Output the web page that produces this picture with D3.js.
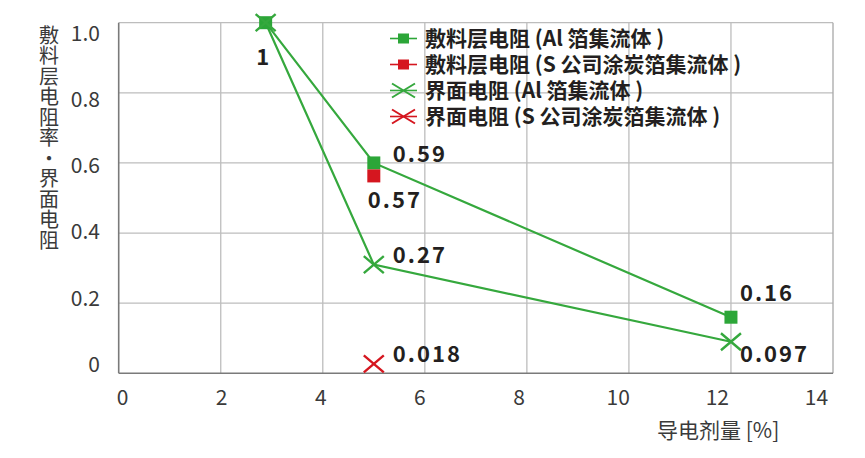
<!DOCTYPE html>
<html>
<head>
<meta charset="utf-8">
<script src="https://cdn.jsdelivr.net/npm/d3@7"></script>
<style>
  html, body { margin: 0; padding: 0; background: #fff; }
  svg { display: block; }
</style>
</head>
<body>
<svg id="chart" width="865" height="458"></svg>
<script>
// ---------- data ----------
const xTicks = [0, 2, 4, 6, 8, 10, 12, 14];
const yTicks = [0, 0.2, 0.4, 0.6, 0.8, 1.0];
const yTickLabels = ["0", "0.2", "0.4", "0.6", "0.8", "1.0"];
const yTitle = "敷料层电阻率・界面电阻";
const xTitle = "导电剂量 [%]";

const layerAlX = [2.88, 5, 12];
const layerAlY = [1.0, 0.60, 0.16];
const layerAlLabels = ["1", "0.59", "0.16"];

const layerSX = [5];
const layerSY = [0.563];
const layerSLabels = ["0.57"];

const ifaceAlX = [2.88, 5, 12];
const ifaceAlY = [1.0, 0.31, 0.09];
const ifaceAlLabels = ["", "0.27", "0.097"];

const ifaceSX = [5];
const ifaceSY = [0.027];
const ifaceSLabels = ["0.018"];

const legendNames = [
  "敷料层电阻 (Al 箔集流体 )",
  "敷料层电阻 (S 公司涂炭箔集流体 )",
  "界面电阻 (Al 箔集流体 )",
  "界面电阻 (S 公司涂炭箔集流体 )"
];

// ---------- style / layout ----------
const GREEN = "#35a83d", GREEN_M = "#2ca638", RED = "#d5161f";
const CJK = "'Noto Sans CJK SC', 'Noto Sans', sans-serif";
const labelOffsets = {
  layerAl: [[-3, 42, "middle"], [19, -1, "start"], [9, -16, "start"]],
  layerS: [[-6, 32, "start"]],
  ifaceAl: [[0, 0, "start"], [19, -2, "start"], [9, 20, "start"]],
  ifaceS: [[19, -2, "start"]]
};

const svg = d3.select("#chart");
const x = d3.scaleLinear().domain([0, 14]).range([118.7, 833]);
const y = d3.scaleLinear().domain([0, 1]).range([373.3, 22.7]);
// label placement scales (labels in reference are slightly compressed relative to grid)
const xLab = d3.scaleLinear().domain([0, 14]).range([122, 816]);
const yLab = d3.scaleLinear().domain([0, 1]).range([364.5, 33.5]);

// grid
const grid = svg.append("g");
grid.selectAll("line.h").data(yTicks.filter(d => d > 0)).join("line")
  .attr("x1", x(0)).attr("x2", x(14))
  .attr("y1", d => y(d)).attr("y2", d => y(d))
  .attr("stroke", "#bdbdbd").attr("stroke-width", 1.3);
grid.selectAll("line.v").data(xTicks.filter(d => d > 0)).join("line")
  .attr("x1", d => x(d)).attr("x2", d => x(d))
  .attr("y1", y(0)).attr("y2", y(1))
  .attr("stroke", d => d === 14 ? "#a8a8a8" : "#bdbdbd").attr("stroke-width", 1.3);

// axis lines
svg.append("line").attr("x1", x(0)).attr("x2", x(0)).attr("y1", y(1)).attr("y2", y(0))
  .attr("stroke", "#7a7a7a").attr("stroke-width", 1.6);
svg.append("line").attr("x1", x(0)).attr("x2", x(14)).attr("y1", y(0)).attr("y2", y(0))
  .attr("stroke", "#7a7a7a").attr("stroke-width", 1.6);

// tick labels via d3 axes
const yAxis = d3.axisLeft(yLab).tickValues(yTicks).tickSize(0).tickPadding(0)
  .tickFormat((d, i) => yTickLabels[i]);
const gy = svg.append("g").attr("transform", "translate(100,0)").call(yAxis);
gy.select(".domain").remove();
gy.selectAll("text").attr("font-family", CJK).attr("font-size", 21).attr("fill", "#3a3a3a");

const xAxis = d3.axisBottom(xLab).tickValues(xTicks).tickSize(0).tickPadding(0)
  .tickFormat(d => String(d));
const gx = svg.append("g").attr("transform", "translate(0,390)").call(xAxis);
gx.select(".domain").remove();
gx.selectAll("text").attr("font-family", CJK).attr("font-size", 21).attr("fill", "#3a3a3a");

// axis titles
svg.append("text")
  .attr("x", 49).attr("y", 25)
  .attr("font-family", CJK).attr("font-size", 20)
  .attr("fill", "#3a3a3a")
  .style("writing-mode", "vertical-rl")
  .attr("letter-spacing", 0.5)
  .text(yTitle);
svg.append("text").attr("x", 657).attr("y", 438).attr("font-family", CJK)
  .attr("font-size", 21).attr("fill", "#3a3a3a").text(xTitle);

// lines
const line = d3.line().x(d => x(d[0])).y(d => y(d[1]));
const zip = (xs, ys) => xs.map((v, i) => [v, ys[i]]);
const seriesLayerAl = zip(layerAlX, layerAlY);
const seriesIfaceAl = zip(ifaceAlX, ifaceAlY);
svg.append("path").attr("d", line(seriesLayerAl)).attr("fill", "none")
  .attr("stroke", GREEN).attr("stroke-width", 2.2);
svg.append("path").attr("d", line(seriesIfaceAl)).attr("fill", "none")
  .attr("stroke", GREEN).attr("stroke-width", 2.2);

// markers
function squares(g, pts, color, s) {
  g.selectAll(null).data(pts).join("rect")
    .attr("x", d => x(d[0]) - s / 2).attr("y", d => y(d[1]) - s / 2)
    .attr("width", s).attr("height", s).attr("fill", color);
}
function crosses(g, pts, color, w, h, sw) {
  const p = d => `M${x(d[0]) - w / 2},${y(d[1]) - h / 2}L${x(d[0]) + w / 2},${y(d[1]) + h / 2}` +
    `M${x(d[0]) - w / 2},${y(d[1]) + h / 2}L${x(d[0]) + w / 2},${y(d[1]) - h / 2}`;
  g.selectAll(null).data(pts).join("path").attr("d", p)
    .attr("stroke", color).attr("stroke-width", sw).attr("fill", "none");
}
const mg = svg.append("g");
squares(mg, seriesLayerAl, GREEN_M, 13);
squares(mg, zip(layerSX, layerSY), RED, 13);
crosses(mg, seriesIfaceAl, GREEN, 20, 17, 2.4);
crosses(mg, zip(ifaceSX, ifaceSY), RED, 20, 17, 2.4);

// data labels
function labels(xs, ys, texts, offs) {
  svg.append("g").selectAll("text").data(texts.map((t, i) => ({ t, i }))).join("text")
    .filter(d => d.t !== "")
    .attr("x", d => x(xs[d.i]) + offs[d.i][0])
    .attr("y", d => y(ys[d.i]) + offs[d.i][1])
    .attr("text-anchor", d => offs[d.i][2])
    .attr("font-family", CJK).attr("font-weight", "bold").attr("font-size", 22)
    .attr("letter-spacing", d => d.t.length > 1 ? 2 : 0)
    .attr("fill", "#231f20").text(d => d.t);
}
labels(layerAlX, layerAlY, layerAlLabels, labelOffsets.layerAl);
labels(layerSX, layerSY, layerSLabels, labelOffsets.layerS);
labels(ifaceAlX, ifaceAlY, ifaceAlLabels, labelOffsets.ifaceAl);
labels(ifaceSX, ifaceSY, ifaceSLabels, labelOffsets.ifaceS);

// legend
const legend = svg.append("g");
const legColors = [GREEN_M, RED, GREEN, RED];
const legY = i => 38.5 + i * 26;
legendNames.forEach((name, i) => {
  const cy = legY(i);
  legend.append("line").attr("x1", 390).attr("x2", 417).attr("y1", cy).attr("y2", cy)
    .attr("stroke", legColors[i]).attr("stroke-width", 1.6);
  if (i < 2) {
    legend.append("rect").attr("x", 398).attr("y", cy - 5).attr("width", 11).attr("height", 10)
      .attr("fill", legColors[i]);
  } else {
    legend.append("path")
      .attr("d", `M392,${cy - 7}L415,${cy + 7}M392,${cy + 7}L415,${cy - 7}`)
      .attr("stroke", legColors[i]).attr("stroke-width", 2).attr("fill", "none");
  }
  legend.append("text").attr("x", 425).attr("y", cy + 7.6)
    .attr("font-family", CJK).attr("font-weight", 600).attr("font-size", 21)
    .attr("fill", "#231f20").text(name);
});
</script>
</body>
</html>
